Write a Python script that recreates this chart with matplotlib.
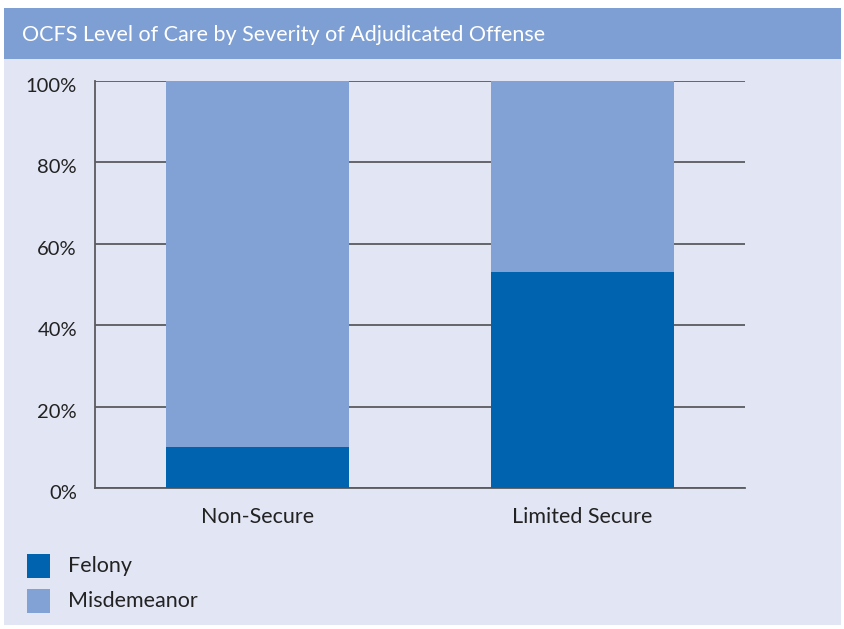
import matplotlib
matplotlib.use("Agg")
import matplotlib.pyplot as plt
import matplotlib.transforms as mtransforms
from matplotlib.patches import Rectangle

plt.rcParams['font.family'] = ['Lato', 'DejaVu Sans']

categories = ['Non-Secure', 'Limited Secure']
felony = [10, 53]
misdemeanor = [90, 47]
series_names = ['Felony', 'Misdemeanor']
yticks = [0, 20, 40, 60, 80, 100]
ytick_labels = ['0%', '20%', '40%', '60%', '80%', '100%']
title = 'OCFS Level of Care by Severity of Adjudicated Offense'

c_felony = '#0063b0'
c_misd = '#82a2d6'
c_panel = '#e2e5f4'
c_header = '#7e9fd4'

W, H = 845, 629
fig = plt.figure(figsize=(W / 100, H / 100), dpi=100)
fig.patch.set_facecolor('white')

def px(x0, y0, x1, y1):
    # pixel box (top-left origin) -> figure fraction rect
    return [x0 / W, 1 - y1 / H, (x1 - x0) / W, (y1 - y0) / H]

# background panel and header strip
r = px(4, 8, 841, 625)
fig.patches.append(Rectangle((r[0], r[1]), r[2], r[3], transform=fig.transFigure,
                             facecolor=c_panel, edgecolor='none', zorder=-2))
r = px(4, 8, 841, 59)
fig.patches.append(Rectangle((r[0], r[1]), r[2], r[3], transform=fig.transFigure,
                             facecolor=c_header, edgecolor='none', zorder=-1))
fig.text(22 / W, 1 - 35 / H, title, color='white', fontsize=15.5,
         va='center', ha='left')

ax = fig.add_axes(px(95, 81, 745, 488))
ax.set_zorder(5)
ax.set_facecolor('none')
x = range(len(categories))
w = 0.565
ax.bar(x, felony, width=w, color=c_felony, zorder=3, label=series_names[0])
ax.bar(x, misdemeanor, width=w, bottom=felony, color=c_misd, zorder=3,
       label=series_names[1])

ax.set_xlim(-0.5, 1.5)
ax.set_ylim(0, 100)
ax.set_yticks(yticks)
ax.set_yticklabels(ytick_labels)
ax.set_xticks(list(x))
ax.set_xticklabels(categories)
ax.yaxis.grid(True, color='#5a5a60', linewidth=1.3, zorder=1)
ax.set_axisbelow(True)
for s in ['top', 'right']:
    ax.spines[s].set_visible(False)
for s in ['left', 'bottom']:
    ax.spines[s].set_color('#5a5a60')
    ax.spines[s].set_linewidth(1.3)
ax.tick_params(axis='both', length=0, labelsize=15.5, colors='#222222')
ax.tick_params(axis='y', pad=13, labelsize=14.5)
ax.tick_params(axis='x', pad=14)

# y labels sit a little below their gridlines
shift = mtransforms.ScaledTranslation(0, -4 / 100, fig.dpi_scale_trans)
for lbl in ax.get_yticklabels():
    lbl.set_transform(lbl.get_transform() + shift)

# legend squares drawn in figure space
for i, (name, col) in enumerate(zip(series_names, [c_felony, c_misd])):
    cy = 566 + i * 35
    r = px(27, cy - 12, 50, cy + 12)
    fig.patches.append(Rectangle((r[0], r[1]), r[2], r[3], transform=fig.transFigure,
                                 facecolor=col, edgecolor='none', zorder=2))
    fig.text(68 / W, 1 - cy / H, name, fontsize=15.5, color='#222222',
             va='center', ha='left')

fig.savefig('out.png', dpi=100)
